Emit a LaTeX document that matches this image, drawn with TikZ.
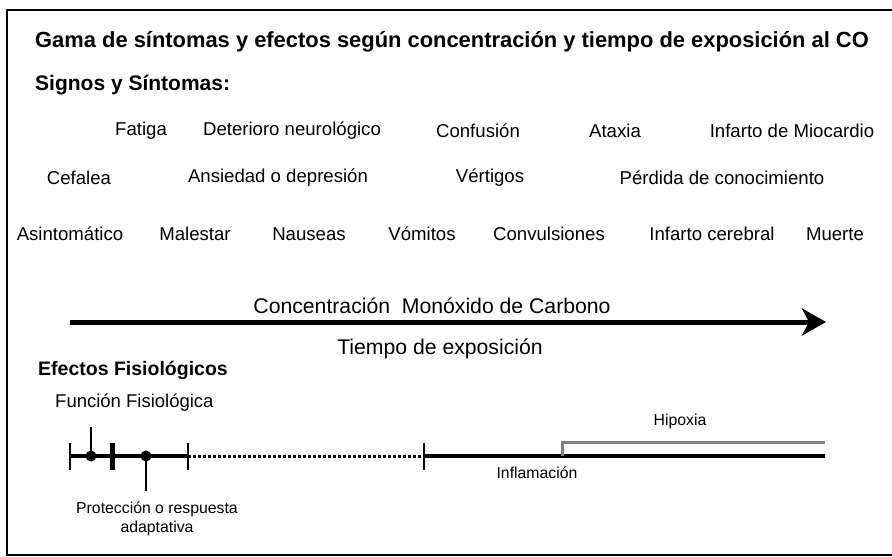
\documentclass[tikz,border=0pt]{standalone}
\usepackage{fontspec}
\setmainfont{Liberation Sans}
\usetikzlibrary{arrows.meta}
\begin{document}
\begin{tikzpicture}[x=1pt,y=-1pt]
        \tikzset{titulo/.style={font=\bfseries\fontsize{21}{24}\selectfont,anchor=west,inner sep=0pt},
                 sintoma/.style={font=\fontsize{18.6}{21}\selectfont,inner sep=0pt},
                 eje/.style={font=\fontsize{21.2}{24}\selectfont,inner sep=0pt},
                 etiqueta/.style={font=\fontsize{15.8}{18.5}\selectfont,align=center,inner sep=0pt},
                 marca/.style={line width=2.5pt},
                 tramo/.style={line width=3.6pt}}
        \useasboundingbox (0,0) rectangle (892,557);
        \draw[line width=2pt] (893,10) -- (7,10) -- (7,555) -- (893,555);
        % textos de arriba
        \node[titulo,font=\bfseries\fontsize{21.9}{24}\selectfont] (titulo) at (35,42) {Gama de síntomas y efectos según concentración y tiempo de exposición al CO};
        \node[titulo] (signos) at (35,85) {Signos y Síntomas:};
        \node[sintoma] (fatiga) at (141,131) {Fatiga};
        \node[sintoma] (deterioro) at (292,131) {Deterioro neurológico};
        \node[sintoma] (confusion) at (478,131) {Confusión};
        \node[sintoma] (ataxia) at (615,131) {Ataxia};
        \node[sintoma] (miocardio) at (792,131) {Infarto de Miocardio};
        \node[sintoma] (cefalea) at (79,178) {Cefalea};
        \node[sintoma] (ansiedad) at (278,178) {Ansiedad o depresión};
        \node[sintoma] (vertigos) at (490,178) {Vértigos};
        \node[sintoma] (perdida) at (722,178) {Pérdida de conocimiento};
        \node[sintoma] (asintomatico) at (70,234) {Asintomático};
        \node[sintoma] (malestar) at (195,234) {Malestar};
        \node[sintoma] (nauseas) at (309,234) {Nauseas};
        \node[sintoma] (vomitos) at (422,234) {Vómitos};
        \node[sintoma] (convulsiones) at (549,234) {Convulsiones};
        \node[sintoma] (cerebral) at (712,234) {Infarto cerebral};
        \node[sintoma] (muerte) at (835,234) {Muerte};
        % flecha
        \node[eje] (concentracion) at (432,306) {Concentración\ \ Monóxido de Carbono};
        \coordinate (ini) at (70,322);
        \coordinate (fin) at (826,322);
        \draw[line width=5pt,-{Stealth[length=24pt,width=27pt,inset=7pt]}] (ini) -- (fin);
        \node[eje] (tiempo) at (440,349) {Tiempo de exposición};
        % efectos
        \node[titulo,font=\bfseries\fontsize{19.5}{22}\selectfont] (efectos) at (38,370) {Efectos Fisiológicos};
        \node[titulo,font=\fontsize{18.5}{21}\selectfont] (funcion) at (55,403) {Función Fisiológica};
        \coordinate (a0) at (70,456);
        \coordinate (d1) at (91,456);
        \coordinate (a1) at (112,456);
        \coordinate (d2) at (146,456);
        \coordinate (a2) at (188,456);
        \coordinate (a3) at (424,456);
        \coordinate (g0) at (562,456);
        \coordinate (fin2) at (825,456);
        \coordinate (d1up) at (91,427);
        \coordinate (d2down) at (146,491);
        \coordinate (g1) at (562,442);
        \coordinate (g2) at (825,442);
        \draw[tramo] (a0) -- (a2);
        \draw[line width=3pt,dash pattern=on 3pt off 2pt] (a2) -- (a3);
        \draw[tramo] (a3) -- (fin2);
        \draw[marca] (a0) ++(0,-13.5) -- ++(0,27);
        \draw[line width=5pt] (a1) ++(0,-13.5) -- ++(0,27);
        \draw[marca] (a2) ++(0,-13.5) -- ++(0,27);
        \draw[marca] (a3) ++(0,-13.5) -- ++(0,27);
        \draw[marca] (d1up) -- (d1);
        \draw[marca] (d2) -- (d2down);
        \fill (d1) circle (5.5);
        \fill (d2) circle (5.5);
        \draw[line width=3pt,black!50] (g0) -- (g1) -- (g2);
        \node[etiqueta] (hipoxia) at (680,421) {Hipoxia};
        \node[etiqueta] (inflamacion) at (537,473) {Inflamación};
        \node[etiqueta] (proteccion) at (157,519) {Protección o respuesta\\adaptativa};
\end{tikzpicture}
\end{document}
